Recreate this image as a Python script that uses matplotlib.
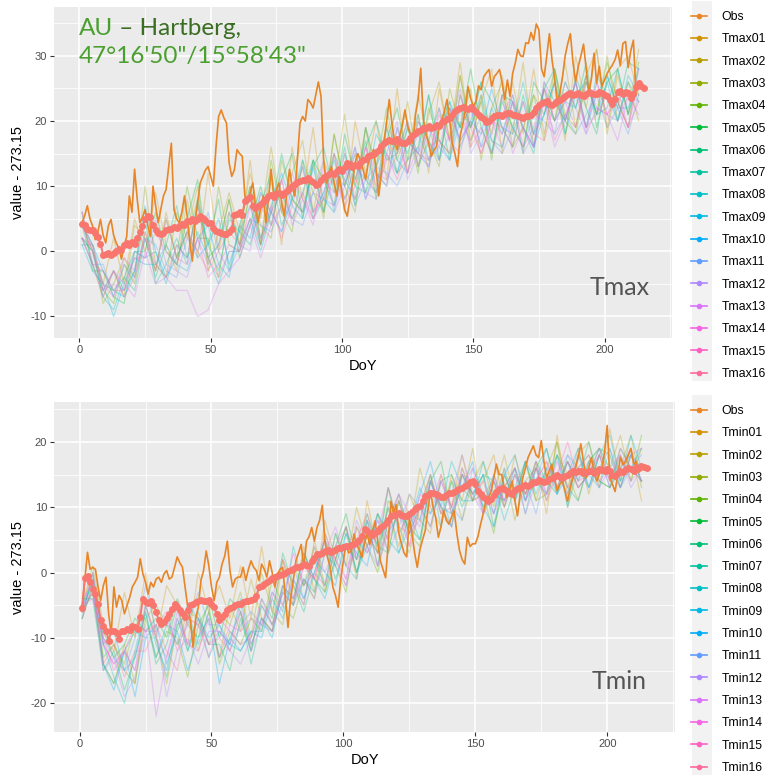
import numpy as np
import matplotlib.pyplot as plt
from matplotlib.lines import Line2D
from matplotlib.patches import Rectangle
from matplotlib.ticker import MultipleLocator

plt.rcParams['font.family'] = ['Liberation Sans', 'DejaVu Sans']
plt.rcParams['axes.unicode_minus'] = False

# ---------------- data ----------------
# observed daily values, DoY 1..212
obs_tmax = [4.4, 5.5, 7.0, 5.0, 3.9, 1.8, 3.0, 4.9, 2.5, 1.3,
            3.9, 4.9, 2.5, 1.3, 0.5, -1.2, 0.8, 2.3, 8.5, 6.0,
            12.6, 8.0, 4.4, 5.2, 6.4, 4.0, 2.3, 10.0, 7.0, 4.4,
            6.5, 8.5, 9.5, 13.0, 16.6, 6.4, 5.0, 4.4, 6.0, 8.5,
            5.5, 1.5, -1.5, 4.4, 7.5, 10.5, 11.5, 12.5, 13.0, 11.5,
            10.0, 16.0, 20.7, 21.7, 20.5, 19.7, 13.6, 11.5, 12.5, 15.6,
            15.0, 14.6, 8.5, 7.4, 9.0, 10.5, 7.0, 4.4, 6.5, 8.5,
            4.4, 8.0, 12.6, 8.5, 9.5, 10.5, 7.5, 5.4, 9.0, 12.6,
            10.0, 8.5, 14.0, 19.7, 20.7, 20.0, 23.3, 22.8, 22.0, 24.0,
            26.0, 23.8, 14.0, 10.5, 12.0, 13.0, 10.5, 8.5, 11.5, 9.0,
            6.4, 5.4, 8.0, 10.5, 13.6, 15.0, 14.0, 12.6, 11.0, 13.6,
            14.5, 15.6, 12.6, 8.5, 12.0, 16.6, 20.0, 23.3, 19.7, 17.0,
            15.6, 17.7, 19.5, 21.7, 19.2, 18.0, 16.6, 21.0, 23.3, 28.1,
            20.2, 18.0, 16.6, 14.6, 15.5, 16.1, 19.2, 20.2, 21.5, 23.3,
            20.2, 16.6, 15.0, 13.0, 17.7, 19.5, 21.7, 25.3, 23.5, 22.2,
            23.0, 25.4, 24.8, 26.8, 27.4, 27.9, 25.3, 26.8, 27.3, 27.9,
            25.9, 23.3, 26.3, 23.8, 27.3, 28.9, 31.0, 30.0, 29.9, 32.0,
            31.9, 33.6, 32.4, 34.9, 34.0, 28.0, 26.8, 30.0, 33.4, 29.4,
            26.5, 22.7, 24.3, 26.8, 30.0, 31.9, 33.4, 28.9, 26.0, 28.4,
            30.0, 31.8, 28.0, 24.3, 26.5, 30.4, 25.8, 28.4, 25.3, 26.3,
            27.3, 28.0, 28.6, 29.4, 30.9, 28.5, 31.9, 32.2, 28.2, 30.8,
            32.4, 24.0]

obs_tmin = [-5.0, -1.0, 3.1, 0.5, 0.8, 0.5, -2.2, -4.3, -2.0, -0.7,
            -6.3, -9.4, -2.2, -5.3, -3.5, -4.3, -6.3, -5.0, -3.8, -2.2,
            -1.5, -0.7, 2.1, -0.2, -1.5, -3.3, -1.5, -2.2, -1.0, -0.7,
            -1.5, -0.2, 0.3, -1.0, -0.7, 0.8, 2.4, 1.5, 0.8, -2.2,
            -5.3, -7.3, -11.4, -7.0, -5.3, -1.2, 0.3, 3.3, 1.0, -2.2,
            -4.3, -1.5, -0.7, 1.3, 2.5, 4.8, 0.3, -2.2, -1.0, -0.7,
            -0.7, 0.8, -1.2, 0.5, 1.8, 0.8, 0.3, -1.2, 1.3, 0.5,
            -0.7, 1.8, 0.0, -2.2, -0.2, 0.5, 0.8, -3.8, -8.4, -4.0,
            -1.2, 1.8, 3.0, 4.3, 0.8, 4.8, 5.5, 6.9, 4.8, 6.9,
            8.0, 10.3, 4.8, 2.3, 0.8, -2.2, -3.5, -5.3, -1.0, 1.8,
            4.3, 3.0, 3.3, 5.9, 4.3, 3.5, 2.3, 4.5, 5.9, 4.3,
            6.0, 7.9, 4.8, 1.8, 0.5, -0.8, 4.5, 10.9, 9.0, 10.4,
            6.0, 4.4, 3.0, 2.4, 8.4, 6.0, 3.0, 0.8, 3.5, 5.0,
            6.4, 9.5, 12.5, 10.0, 8.4, 5.4, 7.0, 9.5, 8.0, 7.4,
            8.5, 9.5, 6.0, 3.4, 2.0, 1.3, 5.4, 4.0, 4.4, 4.4,
            5.5, 7.4, 9.0, 10.9, 11.5, 12.4, 14.5, 16.6, 15.0, 15.0,
            13.0, 11.5, 12.5, 14.0, 11.0, 8.7, 12.0, 14.5, 16.0, 17.6,
            18.5, 19.4, 18.0, 17.6, 20.2, 17.0, 14.5, 15.5, 16.6, 14.5,
            12.5, 13.5, 14.0, 12.5, 10.9, 13.0, 14.5, 16.0, 17.6, 19.7,
            17.0, 14.5, 16.0, 17.6, 15.5, 14.0, 15.0, 16.0, 18.5, 22.5,
            14.5, 13.5, 12.4, 15.0, 17.6, 16.5, 17.0, 18.0, 19.0, 16.6,
            17.0, 15.4]

# ensemble mean (red dots), DoY 1..215
mean_tmax = [4.2, 4.0, 3.5, 3.2, 3.3, 2.8, 2.2, 1.2, -0.5, -0.4,
             -0.3, -0.5, -0.3, 0.0, 0.3, 0.2, 1.0, 1.3, 1.0, 1.4,
             1.2, 2.0, 3.0, 3.9, 5.0, 5.4, 5.2, 4.0, 3.2, 2.8,
             2.6, 2.8, 3.2, 3.4, 3.5, 3.8, 3.6, 3.9, 4.2, 4.1,
             4.6, 4.7, 4.9, 4.6, 5.0, 5.4, 5.1, 4.8, 4.4, 4.3,
             3.6, 3.1, 3.0, 2.8, 2.7, 2.6, 3.0, 3.5, 5.6, 5.8,
             6.0, 5.6, 7.7, 8.0, 8.3, 7.0, 6.7, 7.0, 7.3, 7.5,
             8.0, 8.5, 8.7, 8.4, 8.8, 9.0, 8.6, 8.9, 9.2, 9.6,
             10.0, 10.3, 10.6, 10.8, 11.0, 10.9, 11.2, 11.0, 10.6, 10.2,
             10.4, 11.0, 11.4, 11.5, 11.8, 12.0, 11.9, 12.3, 12.6, 12.4,
             13.0, 13.5, 13.4, 13.0, 13.2, 13.1, 13.6, 14.0, 14.2, 14.6,
             14.8, 15.0, 15.3, 15.6, 16.2, 16.7, 16.9, 17.1, 16.9, 17.0,
             17.2, 16.8, 16.6, 16.6, 17.0, 17.4, 17.8, 18.2, 18.4, 18.6,
             18.9, 19.0, 19.2, 19.0, 19.1, 19.4, 19.3, 19.8, 20.0, 20.3,
             20.5, 21.0, 21.5, 21.8, 22.0, 22.2, 22.0, 21.8, 22.1, 21.8,
             21.4, 21.0, 20.6, 20.3, 19.9, 20.0, 20.4, 20.8, 21.0, 21.0,
             20.8, 21.1, 21.3, 21.2, 21.0, 20.9, 20.8, 20.6, 20.5, 20.7,
             20.8, 21.0, 21.4, 22.0, 22.5, 22.8, 22.9, 23.0, 22.6, 22.4,
             22.8, 23.0, 23.2, 23.6, 23.9, 24.1, 24.3, 24.0, 24.2, 24.3,
             24.0, 23.9, 24.2, 24.4, 24.3, 24.1, 24.2, 24.5, 24.3, 24.0,
             23.8, 23.2, 22.6, 23.4, 24.4, 24.6, 24.2, 24.5, 24.3, 23.6,
             24.2, 25.2, 25.8, 25.3, 25.0]

mean_tmin = [-5.5, -0.8, -0.5, -1.5, -2.5, -3.3, -4.8, -7.3, -8.2, -8.9,
             -10.4, -9.0, -8.9, -9.2, -10.2, -8.9, -9.0, -8.6, -8.8, -8.2,
             -8.4, -8.6, -6.8, -4.0, -4.5, -4.6, -4.4, -5.0, -6.0, -7.3,
             -7.8, -7.6, -7.0, -6.3, -5.6, -4.8, -5.2, -5.8, -6.2, -6.8,
             -5.8, -5.0, -4.8, -4.5, -4.3, -4.2, -4.4, -4.3, -4.2, -4.8,
             -5.3, -6.4, -7.3, -6.8, -6.3, -5.8, -5.5, -5.3, -5.0, -4.8,
             -4.8, -4.5, -4.4, -4.3, -4.2, -4.0, -3.6, -2.2, -2.0, -1.8,
             -1.5, -1.2, -0.9, -0.7, -0.5, -0.3, -0.2, 0.0, 0.3, 0.4,
             0.6, 0.8, 0.8, 1.0, 1.3, 1.2, 1.0, 1.8, 2.2, 2.8,
             2.9, 3.0, 3.3, 3.4, 3.2, 3.3, 3.5, 3.7, 3.8, 3.9,
             4.1, 4.1, 4.2, 4.3, 4.6, 5.0, 5.6, 6.6, 6.3, 6.0,
             5.8, 6.1, 6.3, 6.8, 7.2, 7.6, 8.0, 8.6, 8.8, 9.0,
             9.1, 8.8, 8.6, 8.6, 8.9, 9.3, 9.7, 10.0, 10.2, 11.0,
             11.7, 11.9, 12.2, 12.2, 12.0, 11.8, 11.6, 11.6, 11.9, 12.2,
             12.2, 12.4, 12.6, 12.8, 13.0, 13.2, 13.4, 13.8, 14.0, 13.6,
             12.5, 12.0, 11.6, 11.2, 11.0, 11.2, 11.8, 12.3, 12.8, 13.0,
             12.8, 12.5, 12.2, 12.0, 12.6, 13.0, 13.0, 13.2, 13.4, 13.2,
             13.6, 13.8, 13.9, 14.1, 14.0, 13.8, 14.0, 14.3, 14.5, 14.6,
             14.9, 14.6, 14.4, 14.8, 15.0, 15.3, 15.5, 15.4, 15.6, 15.5,
             15.2, 15.4, 15.6, 15.5, 15.3, 15.6, 15.8, 15.7, 15.6, 15.9,
             15.6, 15.0, 14.8, 15.2, 15.6, 15.4, 15.8, 16.0, 15.8, 15.6,
             16.2, 16.0, 16.3, 16.1, 16.0]

# ensemble members, every 4th DoY (1, 5, ..., 213)
tmax01 = [4, 0, -5, 2, -5, 5, 0, 9, 1, -3, 8, -1, 12, 0, 8, 1, 14, 1, 11, 1, 16, 8, 19, 6, 15, 6, 20, 12, 20, 11, 25, 12, 21, 12, 25, 17, 29, 17, 23, 28, 15, 26, 18, 28, 18, 26, 17, 30, 22, 31, 19, 28, 30, 24]
tmax02 = [2, -2, -7, -3, -7, 4, 2, -3, 6, -1, 3, 10, -3, 3, 9, 3, 12, 5, 16, 6, 12, 17, 6, 14, 10, 21, 10, 19, 9, 20, 15, 23, 13, 21, 26, 17, 27, 16, 24, 18, 27, 18, 29, 16, 25, 20, 29, 19, 27, 31, 18, 27, 21, 31]
tmax03 = [4, 1, -8, -5, -1, -4, 10, -2, -4, 6, 2, 8, -2, 10, 1, 0, 10, 4, 2, 14, 8, 6, 14, 5, 18, 10, 6, 19, 13, 19, 12, 14, 24, 17, 13, 25, 19, 25, 14, 22, 26, 16, 19, 24, 17, 28, 21, 19, 27, 21, 30, 20, 26, 20]
tmax04 = [2, 0, -6, -8, -2, -5, 3, -3, 5, -1, 10, 2, 2, -4, 6, 1, 9, 1, 14, 6, 3, 14, 9, 6, 18, 10, 15, 9, 13, 22, 14, 19, 12, 22, 17, 15, 27, 19, 23, 14, 24, 19, 16, 24, 21, 28, 20, 18, 26, 21, 29, 23, 19, 29]
tmax05 = [6, -3, -3, -7, -8, 0, 0, 6, 0, -2, 5, 11, -1, 1, 8, -1, 4, 10, 4, 11, 15, 5, 14, 11, 7, 18, 11, 17, 8, 17, 22, 14, 16, 24, 14, 22, 19, 28, 19, 15, 24, 23, 15, 26, 23, 20, 26, 22, 29, 19, 26, 28, 21, 26]
tmax06 = [1, 1, -5, -6, -4, -6, 2, -4, 1, 7, -1, 7, 1, 8, -3, 4, 10, 2, 6, 15, 8, 6, 13, 16, 9, 16, 7, 16, 20, 14, 15, 20, 13, 17, 22, 14, 24, 19, 26, 23, 19, 16, 24, 18, 25, 28, 18, 27, 22, 18, 27, 22, 29, 28]
tmax07 = [4, -2, -6, -3, -6, -3, 5, -5, -2, 2, -2, 8, 1, -3, 5, 3, 1, 7, 12, 4, 8, 13, 5, 8, 15, 11, 8, 19, 12, 10, 19, 15, 21, 14, 19, 23, 16, 20, 26, 17, 16, 23, 19, 15, 26, 23, 20, 26, 19, 27, 24, 20, 26, 23]
tmax08 = [2, 0, -7, -9, -4, 0, -1, 0, -5, 1, -1, 3, -1, -5, 0, 0, 5, 0, 6, 9, 5, 9, 14, 8, 6, 15, 10, 9, 18, 15, 12, 17, 15, 24, 17, 14, 22, 19, 24, 15, 23, 19, 26, 18, 21, 26, 18, 24, 26, 21, 22, 28, 21, 28]
tmax09 = [1, -3, -5, -10, -5, -1, -2, -2, 1, -2, -3, 2, 4, -2, -4, 4, 2, 9, 6, 3, 8, 14, 6, 9, 14, 8, 13, 11, 9, 19, 14, 12, 20, 17, 14, 23, 19, 22, 16, 22, 18, 24, 19, 16, 25, 20, 23, 22, 27, 21, 26, 20, 27, 24]
tmax10 = [4, 1, -3, -6, -7, -3, 7, 0, -4, -1, 3, -1, 1, 5, -2, 3, 7, 1, 7, 12, 7, 5, 13, 6, 12, 10, 16, 8, 13, 17, 12, 19, 15, 13, 19, 22, 17, 20, 18, 25, 19, 18, 23, 16, 21, 26, 20, 26, 19, 24, 27, 22, 22, 26]
tmax11 = [2, -2, -2, -7, -2, -4, 2, 1, -3, -4, 2, 0, 6, 0, -3, 1, 5, 4, 3, 7, 5, 4, 9, 8, 7, 13, 7, 11, 13, 12, 10, 14, 18, 14, 16, 14, 20, 17, 21, 17, 15, 19, 16, 21, 20, 18, 21, 18, 21, 24, 19, 22, 18, 24]
tmax12 = [6, 0, -6, -5, -6, 0, -1, 5, -2, -3, -4, 2, -2, 1, 6, 1, 0, 9, 6, 3, 10, 6, 9, 14, 6, 10, 15, 9, 8, 15, 20, 11, 15, 19, 14, 18, 25, 15, 18, 20, 16, 23, 15, 18, 23, 18, 26, 22, 18, 26, 21, 20, 24, 23]
tmax13 = [2, -2, -7, -3, -5, -7, 0, -5, -4, -6, -6, -10, -9, -5, -3, -1, 4, -1, 4, 11, 4, 8, 4, 13, 7, 11, 16, 8, 12, 10, 19, 12, 16, 13, 22, 17, 15, 22, 16, 18, 24, 15, 19, 16, 23, 16, 20, 26, 18, 22, 21, 17, 24, 21]
tmax14 = [4, 0, -5, -7, -1, -3, 2, -3, 5, -1, -2, 2, -4, -2, 1, 0, 4, 7, 4, 7, 12, 8, 5, 9, 15, 8, 11, 16, 12, 11, 15, 20, 13, 19, 16, 22, 17, 20, 15, 20, 18, 23, 19, 16, 26, 20, 23, 19, 26, 22, 21, 25, 19, 28]
tmax15 = [2, 1, -6, -3, -7, -4, 3, -2, -4, 1, -1, 7, -1, -4, 0, 0, 7, 2, 7, 2, 7, 13, 6, 8, 12, 7, 10, 16, 10, 15, 11, 17, 15, 14, 21, 17, 22, 16, 19, 15, 21, 24, 16, 19, 25, 17, 21, 24, 19, 26, 21, 23, 19, 26]
tmax16 = [6, -2, -3, -6, -6, -1, -1, 3, 0, -2, 3, 0, -3, 0, 3, 1, 5, 1, 6, 11, 5, 9, 5, 11, 9, 15, 8, 12, 9, 14, 17, 12, 20, 16, 17, 15, 24, 19, 15, 20, 19, 16, 23, 18, 17, 23, 20, 26, 19, 21, 24, 23, 19, 23]

tmin01 = [-5, 0, -10, -12, -3, -10, 0, -10, -2, -5, -11, 0, -6, -2, -7, 1, -7, 4, -6, 2, -5, 4, -3, 8, 2, 7, -1, 11, 3, 10, 4, 12, 8, 6, 15, 10, 18, 11, 14, 18, 10, 18, 12, 17, 9, 21, 12, 18, 20, 13, 22, 14, 19, 11]
tmin02 = [-6, -3, -14, -17, -11, -17, -5, -10, -17, -8, -7, -12, -6, -13, -5, -9, -1, -7, -9, 2, -2, -5, 5, -2, 6, 1, 10, 4, 9, 3, 11, 6, 16, 10, 7, 15, 11, 19, 9, 12, 18, 11, 17, 11, 16, 20, 13, 19, 12, 18, 16, 21, 14, 19]
tmin03 = [-5, 1, -8, -11, -14, -8, -7, -5, -8, -11, -6, -7, -11, -6, -8, -3, -10, 0, -6, -8, 1, -2, 4, -3, 2, 7, 0, 6, 3, 13, 7, 3, 10, 15, 9, 14, 8, 14, 17, 10, 16, 8, 14, 16, 11, 18, 15, 11, 17, 19, 14, 16, 21, 13]
tmin04 = [-6, -1, -13, -11, -15, -17, -7, -13, -9, -10, -16, -8, -5, -14, -9, -11, -7, -9, -1, -5, -7, -1, -4, 6, 1, -3, 7, 4, 0, 8, 12, 6, 4, 14, 10, 7, 16, 11, 12, 6, 15, 11, 17, 11, 12, 20, 10, 16, 18, 14, 13, 18, 14, 21]
tmin05 = [-7, -2, -9, -13, -11, -7, -9, -7, -10, -4, -8, -10, -4, -10, -4, -6, -12, -5, -8, -2, -4, 3, -1, -3, 4, 9, 2, 8, 1, 11, 9, 7, 5, 14, 17, 9, 15, 12, 15, 7, 13, 16, 11, 16, 19, 13, 17, 13, 15, 19, 18, 13, 18, 16]
tmin06 = [-4, -4, -15, -12, -18, -13, -6, -14, -11, -5, -12, -6, -11, -11, -15, -7, -12, -4, -7, 3, -2, -6, 0, 5, -1, 4, 2, 9, 4, 3, 11, 6, 10, 7, 14, 15, 10, 14, 10, 15, 10, 15, 12, 17, 14, 12, 17, 14, 20, 14, 13, 19, 16, 14]
tmin07 = [-6, -1, -14, -17, -12, -9, -10, -10, -16, -8, -6, -11, -6, -13, -10, -6, -14, -7, -9, -3, -5, -1, -3, 3, 1, 6, 0, 4, 9, 5, 3, 9, 8, 15, 7, 14, 11, 11, 17, 12, 11, 16, 9, 16, 14, 18, 13, 11, 17, 19, 16, 13, 18, 14]
tmin08 = [-5, -2, -11, -16, -20, -12, -5, -11, -15, -7, -12, -7, -13, -9, -11, -12, -9, -9, -3, -6, 4, -2, 2, -2, 6, 1, -1, 8, 4, 13, 6, 9, 5, 14, 10, 17, 13, 11, 15, 14, 8, 13, 17, 12, 16, 12, 18, 16, 13, 18, 21, 14, 16, 19]
tmin09 = [-7, 0, -11, -9, -15, -13, -6, -13, -8, -9, -5, -7, -10, -8, -11, -4, -11, -7, -10, -2, -5, 3, -1, -4, 2, 7, 0, 6, 3, 10, 3, 7, 13, 9, 12, 7, 15, 12, 15, 9, 15, 18, 11, 14, 12, 18, 10, 18, 15, 13, 19, 14, 21, 16]
tmin10 = [-6, -3, -14, -18, -12, -19, -10, -8, -14, -9, -15, -10, -7, -17, -10, -12, -9, -10, -4, -7, -1, -4, 2, 0, -2, 6, 3, 1, 9, 6, 9, 6, 12, 17, 10, 9, 13, 17, 10, 7, 15, 11, 17, 14, 19, 12, 15, 19, 13, 18, 13, 16, 18, 14]
tmin11 = [-5, -1, -10, -13, -15, -10, -2, -9, -7, -11, -8, -3, -8, -8, -12, -8, -6, -8, -9, -3, 1, -4, 0, 5, 1, -2, 5, 3, 8, 3, 7, 12, 10, 9, 14, 10, 8, 16, 12, 9, 16, 11, 14, 9, 16, 15, 12, 18, 13, 16, 19, 13, 16, 18]
tmin12 = [-4, -2, -15, -13, -19, -16, -9, -9, -19, -12, -10, -14, -9, -9, -12, -14, -10, -5, -8, -5, -1, -5, 4, 0, 4, -1, 8, 4, 1, 8, 12, 6, 8, 14, 9, 12, 18, 12, 9, 14, 11, 16, 11, 16, 12, 15, 18, 14, 17, 13, 16, 18, 13, 16]
tmin13 = [-5, -3, -11, -14, -12, -15, -8, -22, -13, -6, -11, -7, -11, -9, -11, -5, -12, -8, -4, 2, -4, -1, -4, 3, 7, 1, 3, 8, 1, 6, 12, 9, 7, 14, 10, 7, 15, 14, 9, 15, 11, 15, 9, 14, 17, 13, 17, 13, 15, 19, 14, 18, 14, 16]
tmin14 = [-6, 0, -11, -14, -12, -15, -5, -10, -13, -7, -11, -12, -7, -13, -8, -9, -7, -8, -3, -5, 3, -2, 0, -2, 4, 7, 2, 4, 8, 5, 9, 4, 12, 10, 15, 9, 13, 16, 9, 14, 11, 13, 11, 17, 12, 17, 13, 16, 18, 14, 16, 13, 18, 19]
tmin15 = [-5, -4, -10, -15, -12, -8, -9, -8, -6, -12, -7, -8, -13, -7, -9, -11, -10, -4, -8, -3, -5, 1, -1, 6, 2, -1, 7, 3, 6, 13, 7, 6, 10, 7, 14, 10, 16, 12, 14, 9, 13, 16, 12, 16, 11, 15, 20, 14, 15, 18, 13, 16, 19, 14]
tmin16 = [-7, -2, -14, -11, -16, -12, -12, -8, -12, -15, -7, -8, -11, -10, -12, -6, -11, -7, -9, -2, -4, 1, -1, 5, 2, -2, 5, 9, 3, 6, 11, 4, 10, 15, 9, 10, 15, 11, 12, 14, 10, 15, 12, 14, 17, 13, 17, 13, 15, 18, 14, 19, 16, 14]

tmax_members = [tmax01, tmax02, tmax03, tmax04, tmax05, tmax06, tmax07, tmax08,
                tmax09, tmax10, tmax11, tmax12, tmax13, tmax14, tmax15, tmax16]
tmin_members = [tmin01, tmin02, tmin03, tmin04, tmin05, tmin06, tmin07, tmin08,
                tmin09, tmin10, tmin11, tmin12, tmin13, tmin14, tmin15, tmin16]

obs_days = np.arange(1, len(obs_tmax) + 1)
mean_days = np.arange(1, len(mean_tmax) + 1)
member_days = np.arange(1, 214, 4)


def hcl(h, c=100, l=65):
    # polar Luv -> sRGB, same as R's hcl() used by ggplot's hue palette
    hr = np.deg2rad(h)
    u, v = c * np.cos(hr), c * np.sin(hr)
    xn, yn, zn = 95.047, 100.0, 108.883
    y = yn * ((l + 16) / 116) ** 3
    un = 4 * xn / (xn + 15 * yn + 3 * zn)
    vn = 9 * yn / (xn + 15 * yn + 3 * zn)
    up, vp = u / (13 * l) + un, v / (13 * l) + vn
    x = 9 * y * up / (4 * vp)
    z = -x / 3 - 5 * y + 3 * y / vp
    x, y, z = x / 100, y / 100, z / 100
    rgb = np.array([3.240479 * x - 1.537150 * y - 0.498535 * z,
                    -0.969256 * x + 1.875992 * y + 0.041556 * z,
                    0.055648 * x - 0.204043 * y + 1.057311 * z])
    rgb = np.where(rgb <= 0.0031308, 12.92 * rgb, 1.055 * np.abs(rgb) ** (1 / 2.4) - 0.055)
    return tuple(np.clip(rgb, 0, 1))


mean_col = hcl(15)
obs_col = hcl(35)
member_cols = [hcl(55 + 20 * k) for k in range(16)]

fig = plt.figure(figsize=(7.67, 7.75), dpi=100)
ax1 = fig.add_axes([54 / 767, 1 - 338 / 775, 618 / 767, 331 / 775])
ax2 = fig.add_axes([54 / 767, 1 - 732 / 775, 621 / 767, 330 / 775])


def panel(ax, members, obs, mean, prefix, ylim, tag, leg_top):
    ax.set_facecolor('#EBEBEB')
    for m, col in zip(members, member_cols):
        ax.plot(member_days, m, color=col, lw=0.9, alpha=0.3, zorder=2)
    ax.plot(obs_days, obs, color=obs_col, lw=1.2, zorder=3)
    ax.plot(mean_days, mean, color=mean_col, lw=1.4, marker='o', ms=5,
            mec='none', zorder=4)

    ax.set_xlim(-9.7, 225.7)
    ax.set_ylim(*ylim)
    ax.xaxis.set_major_locator(MultipleLocator(50))
    ax.xaxis.set_minor_locator(MultipleLocator(25))
    ax.yaxis.set_major_locator(MultipleLocator(10))
    ax.yaxis.set_minor_locator(MultipleLocator(5))
    ax.grid(which='major', color='white', lw=1.1)
    ax.grid(which='minor', color='white', lw=0.55)
    ax.set_axisbelow(True)
    for s in ax.spines.values():
        s.set_visible(False)
    ax.tick_params(which='major', length=3, width=0.8, color='#333333',
                   labelsize=8, labelcolor='#4D4D4D', pad=2)
    ax.tick_params(which='minor', length=0)
    ax.set_xlabel('DoY', fontsize=10.5, labelpad=3)
    ax.set_ylabel('value - 273.15', fontsize=10.5, labelpad=4)

    ax.text(0.866, 0.13, tag, transform=ax.transAxes, fontsize=18,
            family='Lato', color='#555555')

    handles = [Line2D([], [], color=obs_col, lw=1.2, marker='o', ms=3)]
    labels = ['Obs']
    for k, col in enumerate(member_cols):
        handles.append(Line2D([], [], color=col, lw=1.2, marker='o', ms=3))
        labels.append('%s%02d' % (prefix, k + 1))
    fig.add_artist(Rectangle((692 / 767, 1 - (leg_top + 375) / 775), 20 / 767, 380 / 775,
                             transform=fig.transFigure, facecolor='#F2F2F2',
                             edgecolor='none', zorder=0))
    ax.legend(handles, labels, loc='upper left',
              bbox_to_anchor=(691 / 767, 1 - (leg_top + 5) / 775),
              bbox_transform=fig.transFigure, frameon=False, fontsize=8.8,
              handlelength=1.3, handletextpad=1.2, labelspacing=0.843,
              borderpad=0, borderaxespad=0)


panel(ax1, tmax_members, obs_tmax, mean_tmax, 'Tmax', (-13.3, 37.5), 'Tmax', 6)
panel(ax2, tmin_members, obs_tmin, mean_tmin, 'Tmin', (-24.4, 26.1), 'Tmin', 400)

t1 = ax1.text(0.04, 0.915, 'AU', transform=ax1.transAxes, fontsize=17.5,
              family='Lato', color='#4A9F2F')
ax1.annotate(' \u2013 Hartberg,', xy=(1, 0), xycoords=t1, fontsize=17.5,
             family='Lato', color='#3B6E23', va='bottom')
ax1.text(0.04, 0.831, '47\u00b016\'50"/15\u00b058\'43"', transform=ax1.transAxes,
         fontsize=17.5, family='Lato', color='#4A9F2F')

fig.savefig('out.png', dpi=100)
